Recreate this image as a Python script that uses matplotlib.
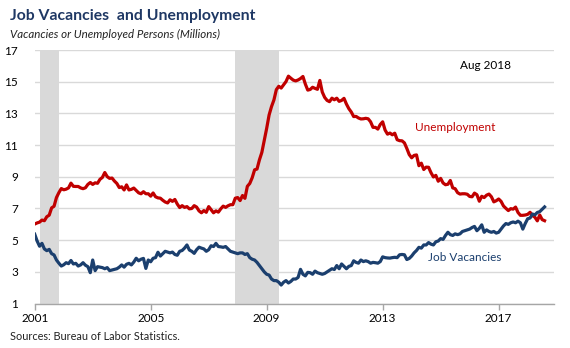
import numpy as np
import matplotlib
matplotlib.use("Agg")
import matplotlib.pyplot as plt

# Monthly series, Jan 2001 - Aug 2018 (millions)
unemployment = [
    6.02, 6.09, 6.14, 6.27, 6.23, 6.48, 6.58, 7.04, 7.14, 7.69, 8.00, 8.26,
    8.18, 8.22, 8.30, 8.60, 8.40, 8.39, 8.39, 8.30, 8.25, 8.31, 8.52, 8.64,
    8.52, 8.62, 8.59, 8.84, 8.96, 9.27, 9.01, 8.90, 8.92, 8.73, 8.58, 8.32,
    8.37, 8.17, 8.49, 8.17, 8.21, 8.29, 8.14, 7.99, 7.93, 8.06, 7.93, 7.93,
    7.78, 7.98, 7.74, 7.67, 7.65, 7.52, 7.41, 7.35, 7.55, 7.45, 7.57, 7.28,
    7.06, 7.18, 7.07, 7.12, 6.98, 7.00, 7.18, 7.09, 6.85, 6.73, 6.87, 6.76,
    7.12, 6.93, 6.73, 6.85, 6.77, 6.98, 7.15, 7.07, 7.17, 7.24, 7.24, 7.65,
    7.69, 7.50, 7.82, 7.64, 8.40, 8.58, 8.94, 9.44, 9.49, 10.07, 10.54, 11.29,
    12.06, 12.90, 13.43, 13.85, 14.50, 14.71, 14.60, 14.81, 15.01, 15.35, 15.22, 15.10,
    15.05, 15.11, 15.20, 15.33, 14.85, 14.47, 14.51, 14.65, 14.58, 14.52, 15.08, 14.35,
    14.01, 13.82, 13.74, 13.96, 13.86, 13.96, 13.76, 13.82, 13.95, 13.59, 13.30, 13.09,
    12.80, 12.81, 12.71, 12.65, 12.66, 12.69, 12.66, 12.47, 12.12, 12.12, 12.01, 12.30,
    12.47, 11.95, 11.69, 11.76, 11.65, 11.75, 11.34, 11.28, 11.27, 11.14, 10.79, 10.40,
    10.20, 10.35, 10.38, 9.70, 9.86, 9.46, 9.61, 9.60, 9.26, 8.99, 9.09, 8.72,
    8.90, 8.61, 8.50, 8.53, 8.77, 8.30, 8.25, 8.00, 7.91, 7.93, 7.93, 7.90,
    7.76, 7.74, 7.97, 7.87, 7.46, 7.77, 7.69, 7.84, 7.91, 7.74, 7.42, 7.49,
    7.60, 7.45, 7.16, 7.01, 6.87, 6.99, 6.96, 7.09, 6.75, 6.57, 6.57, 6.59,
    6.63, 6.76, 6.56, 6.45, 6.22, 6.59, 6.30, 6.23,
]

job_vacancies = [
    5.38, 4.95, 4.62, 4.80, 4.45, 4.34, 4.42, 4.15, 4.07, 3.75, 3.55, 3.37,
    3.45, 3.58, 3.52, 3.72, 3.50, 3.54, 3.37, 3.44, 3.58, 3.42, 3.33, 2.95,
    3.75, 3.08, 3.33, 3.30, 3.27, 3.20, 3.27, 3.08, 3.12, 3.16, 3.20, 3.30,
    3.44, 3.30, 3.48, 3.54, 3.44, 3.62, 3.86, 3.70, 3.80, 3.85, 3.22, 3.75,
    3.64, 3.86, 3.90, 4.24, 4.00, 4.15, 4.30, 4.25, 4.20, 4.25, 4.10, 4.05,
    4.30, 4.35, 4.50, 4.70, 4.38, 4.30, 4.17, 4.40, 4.56, 4.50, 4.45, 4.30,
    4.40, 4.65, 4.60, 4.80, 4.60, 4.58, 4.55, 4.60, 4.45, 4.30, 4.25, 4.20,
    4.15, 4.20, 4.20, 4.10, 4.15, 3.90, 3.80, 3.75, 3.60, 3.40, 3.20, 3.00,
    2.85, 2.80, 2.55, 2.45, 2.45, 2.35, 2.17, 2.35, 2.45, 2.30, 2.40, 2.55,
    2.55, 2.65, 3.16, 2.85, 2.75, 2.97, 2.95, 2.85, 3.05, 2.95, 2.90, 2.85,
    2.90, 3.00, 3.10, 3.20, 3.15, 3.40, 3.20, 3.50, 3.35, 3.20, 3.35, 3.40,
    3.70, 3.60, 3.55, 3.75, 3.65, 3.70, 3.65, 3.55, 3.60, 3.58, 3.55, 3.65,
    3.95, 3.90, 3.88, 3.87, 3.90, 3.92, 3.90, 4.08, 4.10, 4.08, 3.78, 3.85,
    4.00, 4.20, 4.35, 4.55, 4.50, 4.70, 4.70, 4.85, 4.75, 4.70, 4.90, 4.95,
    5.10, 5.05, 5.30, 5.50, 5.35, 5.30, 5.40, 5.35, 5.40, 5.55, 5.60, 5.65,
    5.70, 5.80, 5.87, 5.60, 5.75, 5.97, 5.50, 5.65, 5.55, 5.50, 5.55, 5.45,
    5.50, 5.70, 5.90, 6.05, 6.00, 6.10, 6.15, 6.10, 6.20, 6.10, 5.70, 6.05,
    6.35, 6.40, 6.65, 6.60, 6.75, 6.80, 6.95, 7.10,
]

# Recession periods (decimal years)
recessions = [(2001.17, 2001.83), (2007.92, 2009.42)]

year_ticks = [2001, 2005, 2009, 2013, 2017]
y_ticks = [1, 3, 5, 7, 9, 11, 13, 15, 17]

red = "#C00000"
navy = "#1B3F6E"

months = 2001 + np.arange(len(unemployment)) / 12.0

fig = plt.figure(figsize=(5.70, 3.48), dpi=100)
ax = fig.add_axes([0.0609, 0.1276, 0.9116, 0.7287])

for start, end in recessions:
    ax.axvspan(start, end, color="#D9D9D9", lw=0, zorder=1)

ax.set_ylim(1, 17)
ax.set_xlim(2001, 2018.92)
ax.set_yticks(y_ticks)
ax.set_xticks(year_ticks)
ax.grid(axis="y", color="#D9D9D9", lw=1.0, zorder=0)
ax.set_axisbelow(True)

ax.plot(months, unemployment, color=red, lw=2.3, zorder=3, solid_joinstyle="round")
ax.plot(months, job_vacancies, color=navy, lw=2.3, zorder=3, solid_joinstyle="round")

for side in ("top", "right", "left"):
    ax.spines[side].set_visible(False)
ax.spines["bottom"].set_color("#A6A6A6")
ax.spines["bottom"].set_linewidth(1.0)
ax.spines["bottom"].set_zorder(4)

ax.tick_params(axis="y", length=0, pad=12, labelsize=8.5)
ax.tick_params(axis="x", length=4, width=1, color="#A6A6A6", pad=3, labelsize=8.5)
for lbl in ax.get_xticklabels() + ax.get_yticklabels():
    lbl.set_fontfamily("Lato")

ax.text(2016.56, 16.0, "Aug 2018", ha="center", va="center", fontsize=8.5,
        family="Lato", color="black")
ax.text(2015.5, 12.14, "Unemployment", ha="center", va="center", fontsize=8.5,
        family="Lato", color=red)
ax.text(2015.84, 3.88, "Job Vacancies", ha="center", va="center", fontsize=8.5,
        family="Lato", color=navy)

fig.text(10 / 570, 1 - 16 / 348, "Job Vacancies  and Unemployment", ha="left",
         va="center", fontsize=11.3, fontweight="bold", family="Lato", color="#1F3864")
fig.text(10 / 570, 1 - 34 / 348, "Vacancies or Unemployed Persons (Millions)",
         ha="left", va="center", fontsize=8.3, style="italic", family="Lato",
         color="#222222")
fig.text(10 / 570, 1 - 336 / 348, "Sources: Bureau of Labor Statistics.", ha="left",
         va="center", fontsize=7.8, family="Lato", color="#222222")

fig.savefig("out.png", dpi=100)
